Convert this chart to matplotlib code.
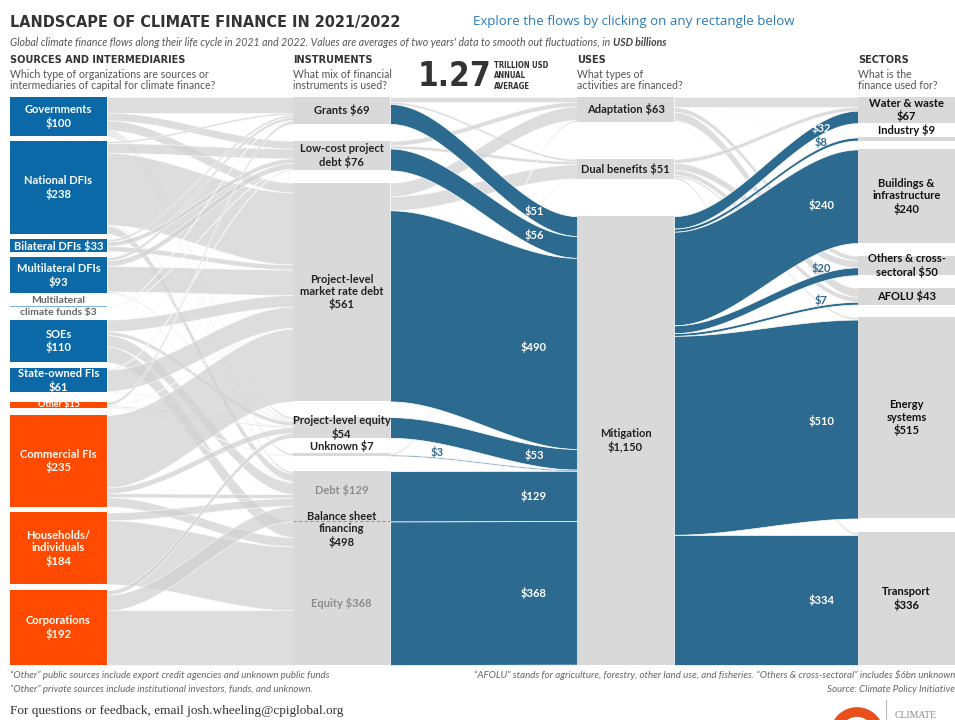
import numpy as np
import matplotlib.pyplot as plt
from matplotlib.patches import Rectangle, Circle

# Data (USD billions, 2021/2022 average)
SOURCE_LABELS = ["Governments\n$100", "National DFIs\n$238", "Bilateral DFIs $33",
                 "Multilateral DFIs\n$93", "Multilateral\nclimate funds $3", "SOEs\n$110",
                 "State-owned FIs\n$61", "Other $15", "Commercial FIs\n$235",
                 "Households/\nindividuals\n$184", "Corporations\n$192"]
SOURCE_TYPE = ["public"] * 7 + ["private"] * 4

INSTRUMENT_LABELS = ["Grants $69", "Low-cost project\ndebt $76",
                     "Project-level\nmarket rate debt\n$561", "Project-level equity\n$54",
                     "Unknown $7", "Debt $129", "Equity $368"]
BALANCE_SHEET_LABEL = "Balance sheet\nfinancing\n$498"

USE_LABELS = ["Adaptation $63", "Dual benefits $51", "Mitigation\n$1,150"]
HIGHLIGHT_USE = 2  # Mitigation

SECTOR_LABELS = ["Water & waste\n$67", "Industry $9", "Buildings &\ninfrastructure\n$240",
                 "Others & cross-\nsectoral $50", "AFOLU $43", "Energy\nsystems\n$515",
                 "Transport\n$336"]

# sources -> instruments (grants, low-cost, market debt, equity, unknown, bs debt, bs equity)
SRC_TO_INST = np.array([
    [40, 20, 25, 5, 5, 5, 0],       # Governments
    [5, 25, 185, 3, 0, 20, 0],      # National DFIs
    [6, 12, 13, 1, 0, 1, 0],        # Bilateral DFIs
    [8, 15, 65, 3, 0, 2, 0],        # Multilateral DFIs
    [2, 1, 0, 0, 0, 0, 0],          # Multilateral climate funds
    [0, 0, 30, 10, 0, 30, 40],      # SOEs
    [0, 3, 55, 2, 0, 1, 0],         # State-owned FIs
    [8, 0, 2, 3, 2, 0, 0],          # Other
    [0, 0, 186, 15, 0, 10, 24],     # Commercial FIs
    [0, 0, 0, 0, 0, 20, 164],       # Households/individuals
    [0, 0, 0, 12, 0, 40, 140],      # Corporations
])

# instruments -> uses (adaptation, dual benefits, mitigation)
INST_TO_USE = np.array([
    [12, 6, 51],
    [12, 8, 56],
    [35, 36, 490],
    [0, 1, 53],
    [4, 0, 3],
    [0, 0, 129],
    [0, 0, 368],
])

# uses -> sectors
USE_TO_SECT = np.array([
    [25, 1, 0, 12, 23, 1, 1],
    [10, 0, 0, 18, 13, 5, 5],
    [32, 8, 240, 20, 7, 510, 334],
])

# Layout (pixels)
W, H = 955, 720
TOP, BOTTOM = 97, 665
SCALE = 0.39
NODE_W = 97
COL_X = [10, 293, 577, 858]

BLUE = "#0b69a8"
ORANGE = "#ff4a00"
FLOW_BLUE = "#2d6a8f"
NODE_GRAY = "#d9d9d9"
TEXT_DARK = "#222222"

NARROW = ["DejaVu Sans"]
SANS = ["Lato", "DejaVu Sans"]


def stack_nodes(values, gap_weights):
    heights = np.asarray(values, float) * SCALE
    free = (BOTTOM - TOP) - heights.sum()
    w = np.asarray(gap_weights, float)
    gaps = free * w / w.sum()
    tops = []
    y = TOP
    for i, h in enumerate(heights):
        tops.append(y)
        y += h
        if i < len(gaps):
            y += gaps[i]
    return np.array(tops), heights


def smooth(t):
    return 3 * t ** 2 - 2 * t ** 3


def link_positions(matrix, src_tops, dst_tops):
    n, m = matrix.shape
    out_y = np.zeros((n, m))
    in_y = np.zeros((n, m))
    for i in range(n):
        y = src_tops[i]
        for j in range(m):
            out_y[i, j] = y
            y += matrix[i, j] * SCALE
    for j in range(m):
        y = dst_tops[j]
        for i in range(n):
            in_y[i, j] = y
            y += matrix[i, j] * SCALE
    return out_y, in_y


def draw_link(ax, x0, x1, y0, y1, h, color, alpha, z):
    t = np.linspace(0, 1, 80)
    x = x0 + (x1 - x0) * t
    top = y0 + (y1 - y0) * smooth(t)
    ax.fill_between(x, top, top + h, facecolor=color, alpha=alpha,
                    edgecolor="white", linewidth=0.5, zorder=z)


def draw_layer(ax, matrix, x0, x1, src_tops, dst_tops, hl_src=None, hl_dst=None):
    out_y, in_y = link_positions(matrix, src_tops, dst_tops)
    n, m = matrix.shape
    highlighted = []
    for i in range(n):
        for j in range(m):
            v = matrix[i, j]
            if v <= 0:
                continue
            h = v * SCALE
            if i == hl_src or j == hl_dst:
                highlighted.append((i, j, out_y[i, j], in_y[i, j], h, v))
            else:
                draw_link(ax, x0, x1, out_y[i, j], in_y[i, j], h, "#d2d2d2", 0.75, 1)
    for i, j, y0, y1, h, v in highlighted:
        draw_link(ax, x0, x1, y0, y1, h, FLOW_BLUE, 1.0, 3)
    return highlighted


def flow_label(ax, x0, x1, y0, y1, h, v, t):
    x = x0 + (x1 - x0) * t
    top = y0 + (y1 - y0) * smooth(t)
    if v >= 25:
        ax.text(x, top + h / 2, f"${v}", color="white", fontsize=8, fontweight="bold",
                ha="center", va="center", family=SANS, zorder=6)
    else:
        ax.text(x, top - 5, f"${v}", color=FLOW_BLUE, fontsize=8, fontweight="bold",
                ha="center", va="center", family=SANS, zorder=6)


fig = plt.figure(figsize=(W / 100, H / 100), dpi=100)
ax = fig.add_axes([0, 0, 1, 1])
ax.set_xlim(0, W)
ax.set_ylim(H, 0)
ax.axis("off")

# node sizes
src_vals = SRC_TO_INST.sum(axis=1)
inst_vals = np.maximum(SRC_TO_INST.sum(axis=0), INST_TO_USE.sum(axis=1))
use_vals = np.maximum(INST_TO_USE.sum(axis=0), USE_TO_SECT.sum(axis=1))
sect_vals = USE_TO_SECT.sum(axis=0)

src_tops, src_h = stack_nodes(src_vals, [0.7, 0.7, 0.7, 1.7, 1.7, 0.8, 1.3, 1.0, 0.8, 0.8])
inst_tops, inst_h = stack_nodes(inst_vals, [1.1, 0.8, 1.0, 1.0, 1.0, 0.0])
use_tops, use_h = stack_nodes(use_vals, [1, 1])
sect_tops, sect_h = stack_nodes(sect_vals, [1.1, 0.7, 1.0, 1.0, 1.0, 1.1])

# flows
draw_layer(ax, SRC_TO_INST, COL_X[0] + NODE_W, COL_X[1], src_tops, inst_tops)
hl_in = draw_layer(ax, INST_TO_USE, COL_X[1] + NODE_W, COL_X[2], inst_tops, use_tops,
                   hl_dst=HIGHLIGHT_USE)
hl_out = draw_layer(ax, USE_TO_SECT, COL_X[2] + NODE_W, COL_X[3], use_tops, sect_tops,
                    hl_src=HIGHLIGHT_USE)

for i, j, y0, y1, h, v in hl_in:
    flow_label(ax, COL_X[1] + NODE_W, COL_X[2], y0, y1, h, v, 0.77 if v >= 25 else 0.25)
for i, j, y0, y1, h, v in hl_out:
    flow_label(ax, COL_X[2] + NODE_W, COL_X[3], y0, y1, h, v, 0.8)

# source nodes
cx = COL_X[0] + NODE_W / 2
for k, (lab, kind) in enumerate(zip(SOURCE_LABELS, SOURCE_TYPE)):
    col = BLUE if kind == "public" else ORANGE
    if k == 4:
        col = "#7fb2dc"
    ax.add_patch(Rectangle((COL_X[0], src_tops[k]), NODE_W, max(src_h[k], 1.2),
                           facecolor=col, edgecolor="none", zorder=4))
    yc = src_tops[k] + src_h[k] / 2
    if k == 4:
        ax.text(cx, yc, lab, color="#666666", fontsize=7.5, fontweight="bold", ha="center",
                va="center", family=SANS, linespacing=1.45, zorder=5)
    elif k == 7:
        ax.text(cx, yc, lab, color="white", fontsize=6.5, fontweight="bold", ha="center",
                va="center", family=SANS, zorder=5)
    else:
        ax.text(cx, yc, lab, color="white", fontsize=8, fontweight="bold", ha="center",
                va="center", family=SANS, linespacing=1.15, zorder=5)

# instrument nodes
cx = COL_X[1] + NODE_W / 2
for k, lab in enumerate(INSTRUMENT_LABELS):
    ax.add_patch(Rectangle((COL_X[1], inst_tops[k]), NODE_W, inst_h[k],
                           facecolor=NODE_GRAY, edgecolor="none", zorder=4))
    yc = inst_tops[k] + inst_h[k] / 2
    color = TEXT_DARK
    if k == 4:
        yc = inst_tops[k] - 7
    elif k == 5:
        yc -= 6
        color = "#8c8c8c"
    elif k == 6:
        yc += 10
        color = "#8c8c8c"
    ax.text(cx, yc, lab, color=color, fontsize=8, fontweight="bold", ha="center",
            va="center", family=SANS, linespacing=1.15, zorder=5)

bs_y = inst_tops[6]
ax.plot([COL_X[1], COL_X[1] + NODE_W], [bs_y, bs_y], color="#9a9a9a", lw=0.8,
        ls=(0, (3, 2)), zorder=5)
ax.text(cx, bs_y + 8, BALANCE_SHEET_LABEL, color=TEXT_DARK, fontsize=8, fontweight="bold",
        ha="center", va="center", family=SANS, linespacing=1.15, zorder=6)

# use nodes
cx = COL_X[2] + NODE_W / 2
for k, lab in enumerate(USE_LABELS):
    ax.add_patch(Rectangle((COL_X[2], use_tops[k]), NODE_W, use_h[k],
                           facecolor=NODE_GRAY, edgecolor="none", zorder=4))
    yc = use_tops[k] + use_h[k] / 2
    ax.text(cx, yc, lab, color=TEXT_DARK, fontsize=8, fontweight="bold", ha="center",
            va="center", family=SANS, linespacing=1.15, zorder=5)

# sector nodes
cx = COL_X[3] + NODE_W / 2
for k, lab in enumerate(SECTOR_LABELS):
    ax.add_patch(Rectangle((COL_X[3], sect_tops[k]), NODE_W, sect_h[k],
                           facecolor=NODE_GRAY, edgecolor="none", zorder=4))
    yc = sect_tops[k] + sect_h[k] / 2
    if k == 1:
        yc = sect_tops[k] - 7
    ax.text(cx, yc, lab, color="#111111", fontsize=8, fontweight="bold", ha="center",
            va="center", family=SANS, linespacing=1.15, zorder=5)

# header
renderer = fig.canvas.get_renderer()
title = ax.text(10, 23, "LANDSCAPE OF CLIMATE FINANCE IN 2021/2022", fontsize=14.5,
                fontweight="bold", fontstretch="condensed", color="#333333", va="center",
                family=NARROW)
tw = title.get_window_extent(renderer=renderer).width
if tw > 390:
    title.set_fontsize(14.5 * 390 / tw)

ax.text(473, 21, "Explore the flows by clicking on any rectangle below", fontsize=9.5,
        color="#2a7ab8", va="center", family=["Open Sans", "DejaVu Sans"])
sub = ax.text(10, 42, "Global climate finance flows along their life cycle in 2021 and 2022. "
              "Values are averages of two years' data to smooth out fluctuations, in ",
              fontsize=7.6, style="italic", color="#555555", va="center", family=SANS)
bb = sub.get_window_extent(renderer=renderer)
ax.text(bb.x1, 42, "USD billions", fontsize=7.6, style="italic", fontweight="bold",
        color="#444444", va="center", family=SANS)

headers = [("SOURCES AND INTERMEDIARIES",
            "Which type of organizations are sources or\nintermediaries of capital for climate finance?"),
           ("INSTRUMENTS", "What mix of financial\ninstruments is used?"),
           ("USES", "What types of\nactivities are financed?"),
           ("SECTORS", "What is the\nfinance used for?")]
for x, (head, question) in zip(COL_X, headers):
    ax.text(x, 60, head, fontsize=7.8, fontweight="bold", fontstretch="condensed",
            color="#333333", va="center", family=NARROW)
    ax.text(x, 69, question, fontsize=7.6, color="#555555", va="top", family=SANS,
            linespacing=1.05)

big = ax.text(418, 76, "1.27", fontsize=30, fontweight="bold", fontstretch="condensed",
              color="#333333", va="center", family=NARROW)
bw = big.get_window_extent(renderer=renderer).width
if bw > 74:
    big.set_fontsize(30 * 74 / bw)
ax.text(494, 61, "TRILLION USD\nANNUAL\nAVERAGE", fontsize=5.6, fontweight="bold",
        fontstretch="condensed", color="#333333", va="top", family=NARROW, linespacing=1.2)

# footnotes
ax.text(10, 675, "\u201cOther\u201d public sources include export credit agencies and unknown public funds",
        fontsize=7, style="italic", color="#666666", va="center", family=SANS)
ax.text(10, 689, "\u201cOther\u201d private sources include institutional investors, funds, and unknown.",
        fontsize=7, style="italic", color="#666666", va="center", family=SANS)
ax.text(W, 675, "\u201cAFOLU\u201d stands for agriculture, forestry, other land use, and fisheries. "
        "\u201cOthers & cross-sectoral\u201d includes $6bn unknown",
        fontsize=7, style="italic", color="#666666", va="center", ha="right", family=SANS)
ax.text(W, 689, "Source: Climate Policy Initiative", fontsize=7, style="italic",
        color="#666666", va="center", ha="right", family=SANS)
ax.text(10, 711, "For questions or feedback, email josh.wheeling@cpiglobal.org", fontsize=9.5,
        color="#333333", va="center", family=["Liberation Serif", "DejaVu Serif"])

# logo
ax.add_patch(Circle((857, 734), 22, facecolor="none", edgecolor="#e8501c", lw=7, zorder=2))
ax.plot([886, 886], [700, 720], color="#bbbbbb", lw=0.8)
ax.text(895, 716, "CLIMATE", fontsize=7, color="#888888", va="center",
        family=["Liberation Serif", "DejaVu Serif"])

fig.savefig("out.png", dpi=100)
